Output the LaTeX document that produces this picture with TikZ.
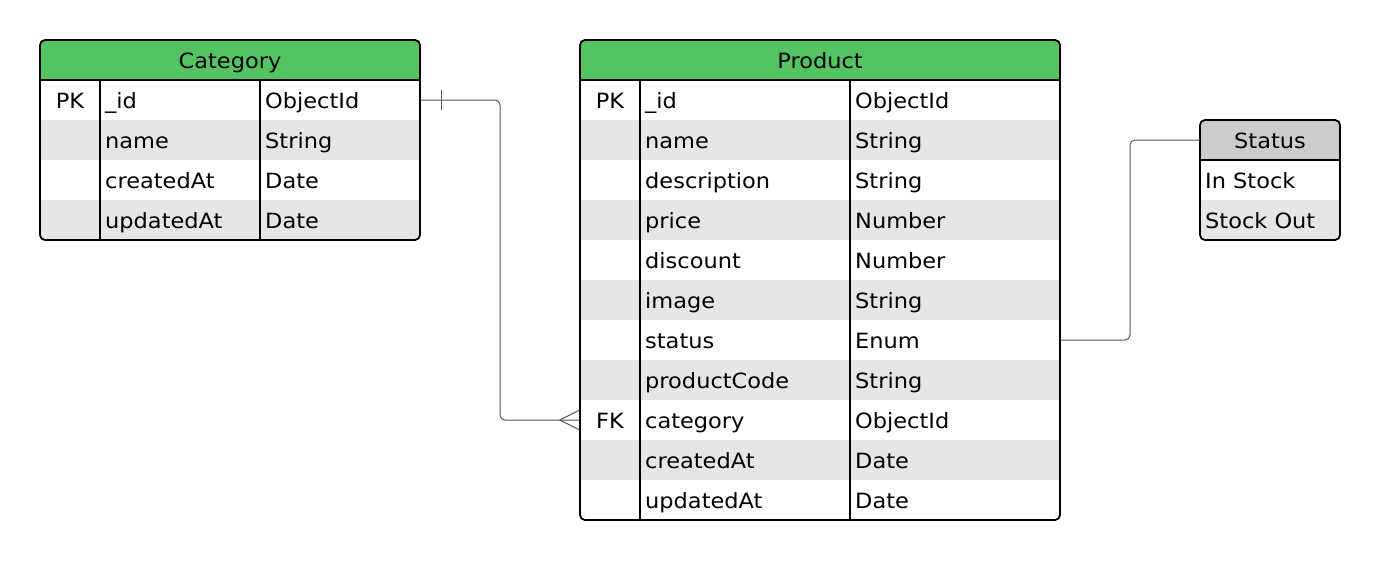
\documentclass[tikz,border=0pt]{standalone}
\usepackage{fontspec}
\setmainfont{DejaVu Sans}[FakeStretch=1.07]
\definecolor{hdrgreen}{RGB}{84,196,98}
\definecolor{rowgray}{RGB}{230,230,230}
\definecolor{hdrgray}{RGB}{204,204,204}
\definecolor{linkgray}{RGB}{85,85,85}
\tikzset{
  rowbox/.style={rectangle, inner sep=0pt, minimum height=40, draw=none},
  cell/.style={anchor=base west, inner sep=0pt},
  keycell/.style={anchor=base, inner sep=0pt},
  tblborder/.style={draw=black, line width=1.8pt, rounded corners=5},
  divider/.style={draw=black, line width=1.8pt},
  link/.style={draw=linkgray, line width=1pt},
}
\begin{document}
\begin{tikzpicture}[x=1pt,y=-1pt,font=\fontsize{21}{25}\selectfont]
\useasboundingbox (0,0) rectangle (1380,560);

% ---------- Category ----------
\begin{scope}
\clip[rounded corners=5] (40,40) rectangle (420,240);
\node[rowbox, fill=hdrgreen, minimum width=380] (cat) at (230,60) {};
\foreach \i in {1,...,4} {
  \pgfmathsetmacro\rowy{60+40*\i}
  \ifodd\i \def\rf{white}\else\def\rf{rowgray}\fi
  \node[rowbox, fill=\rf, minimum width=380] (c\i) at (230,\rowy) {};
}
\end{scope}
\node[keycell] (cattitle) at (230,68) {Category};
\foreach \k/\f/\t [count=\i] in {PK/\_id/ObjectId, /name/String, /createdAt/Date, /updatedAt/Date} {
  \pgfmathsetmacro\rowy{60+40*\i+8}
  \node[keycell] (ck\i) at (70,\rowy) {\k};
  \node[cell] (cf\i) at (105,\rowy) {\f};
  \node[cell] (ct\i) at (265,\rowy) {\t};
}
\draw[tblborder] (40,40) rectangle (420,240);
\draw[divider] (40,80) -- (420,80);
\draw[divider] (100,80) -- (100,240);
\draw[divider] (260,80) -- (260,240);

% ---------- Product ----------
\begin{scope}
\clip[rounded corners=5] (580,40) rectangle (1060,520);
\node[rowbox, fill=hdrgreen, minimum width=480] (prod) at (820,60) {};
\foreach \i in {1,...,11} {
  \pgfmathsetmacro\rowy{60+40*\i}
  \ifodd\i \def\rf{white}\else\def\rf{rowgray}\fi
  \node[rowbox, fill=\rf, minimum width=480] (p\i) at (820,\rowy) {};
}
\end{scope}
\node[keycell] (prodtitle) at (820,68) {Product};
\foreach \k/\f/\t [count=\i] in {PK/\_id/ObjectId, /name/String, /description/String, /price/Number, /discount/Number, /image/String, /status/Enum, /productCode/String, FK/category/ObjectId, /createdAt/Date, /updatedAt/Date} {
  \pgfmathsetmacro\rowy{60+40*\i+8}
  \node[keycell] (pk\i) at (610,\rowy) {\k};
  \node[cell] (pf\i) at (645,\rowy) {\f};
  \node[cell] (pt\i) at (855,\rowy) {\t};
}
\draw[tblborder] (580,40) rectangle (1060,520);
\draw[divider] (580,80) -- (1060,80);
\draw[divider] (640,80) -- (640,520);
\draw[divider] (850,80) -- (850,520);

% ---------- Status ----------
\begin{scope}
\clip[rounded corners=5] (1200,120) rectangle (1340,240);
\node[rowbox, fill=hdrgray, minimum width=140] (s0) at (1270,140) {};
\node[rowbox, fill=white, minimum width=140] (s1) at (1270,180) {};
\node[rowbox, fill=rowgray, minimum width=140] (s2) at (1270,220) {};
\end{scope}
\node[keycell] (stitle) at (1270,148) {Status};
\node[cell] (sv1) at (1205,188) {In Stock};
\node[cell] (sv2) at (1205,228) {Stock Out};
\draw[tblborder] (1200,120) rectangle (1340,240);
\draw[divider] (1200,160) -- (1340,160);

% ---------- Connectors ----------
\coordinate (bendA) at (500,260);
\draw[link, rounded corners=5] (c1.east) -| (bendA) |- (p9.west);
\draw[link] ([shift={(21,-10)}]c1.east) -- ([shift={(21,10)}]c1.east);
\draw[link] ([shift={(-20,0)}]p9.west) -- ([shift={(0,-10)}]p9.west);
\draw[link] ([shift={(-20,0)}]p9.west) -- ([shift={(0,10)}]p9.west);

\coordinate (bendB) at (1130,240);
\draw[link, rounded corners=5] (p7.east) -| (bendB) |- (s0.west);
\end{tikzpicture}
\end{document}
